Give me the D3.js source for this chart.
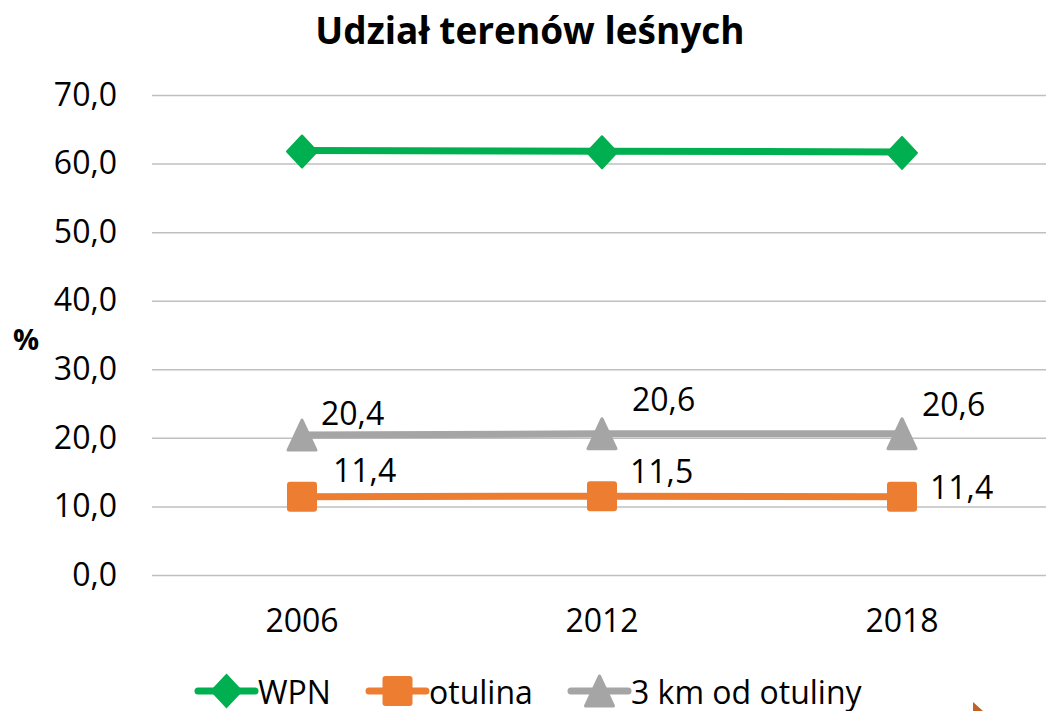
<!DOCTYPE html>
<html>
<head>
<meta charset="utf-8">
<script src="https://cdn.jsdelivr.net/npm/d3@7"></script>
<style>
  html, body { margin: 0; padding: 0; background: #fff; }
  svg { display: block; font-family: "Open Sans", "Noto Sans", sans-serif; }
</style>
</head>
<body>
<svg id="chart" width="1046" height="711"></svg>
<script>
// Share of forest land (%)
const years = ["2006", "2012", "2018"];
const wpn = [61.9, 61.8, 61.7];
const otulina = [11.4, 11.5, 11.4];
const km3 = [20.4, 20.6, 20.6];
const yTicks = [0, 10, 20, 30, 40, 50, 60, 70];
const seriesNames = ["WPN", "otulina", "3 km od otuliny"];

// label placement offsets relative to each point
const labelOffsetsGray = [[19, -23], [30, -35], [20, -30]];
const labelOffsetsOrange = [[31, -27], [28, -26], [28, -10]];

const W = 1046, H = 711;
const FS = 32;
const svg = d3.select("#chart");

const x = d3.scaleBand().domain(years).range([152, 1052]).padding(0);
const cx = d => x(d) + x.bandwidth() / 2;
const y = d3.scaleLinear().domain([0, 70]).range([575, 95]);
const fmt = v => v.toFixed(1).replace(".", ",");

// title
svg.append("text")
  .attr("x", 530).attr("y", 44)
  .attr("text-anchor", "middle")
  .attr("font-size", 37).attr("font-weight", "bold")
  .attr("fill", "#000")
  .text("Udział terenów leśnych");

// y axis with gridlines
const yAxis = svg.append("g")
  .attr("transform", "translate(152,0)")
  .call(d3.axisLeft(y).tickValues(yTicks).tickFormat(fmt)
    .tickSize(-(W - 152)).tickPadding(35));
yAxis.select(".domain").remove();
yAxis.selectAll(".tick line").attr("stroke", "#bfbfbf").attr("stroke-width", 1.5);
yAxis.selectAll(".tick text").attr("font-size", FS).attr("fill", "#000")
  .attr("font-family", "Open Sans, sans-serif");

// x axis labels
const xAxis = svg.append("g")
  .attr("transform", "translate(0,575)")
  .call(d3.axisBottom(x).tickSize(0).tickPadding(34));
xAxis.select(".domain").remove();
xAxis.selectAll(".tick text").attr("font-size", FS).attr("fill", "#000")
  .attr("font-family", "Open Sans, sans-serif");

// axis title
svg.append("text")
  .attr("x", 26).attr("y", 338)
  .attr("text-anchor", "middle").attr("dominant-baseline", "central")
  .attr("font-size", 29).attr("font-weight", "bold")
  .text("%");

const colors = { wpn: "#00b050", otulina: "#ed7d31", km3: "#a5a5a5" };

// marker shapes
const diamondPath = "M0,-16 L15,0 L0,16 L-15,0 Z";
const trianglePath = "M0,-16 L14,14 L-14,14 Z";

function drawSeries(values, color, marker) {
  const pts = years.map((yr, i) => [cx(yr), y(values[i])]);
  svg.append("path")
    .attr("d", d3.line()(pts))
    .attr("fill", "none").attr("stroke", color).attr("stroke-width", 7)
    .attr("stroke-linejoin", "round");
  const g = svg.append("g");
  pts.forEach(p => {
    if (marker === "diamond") {
      g.append("path").attr("d", diamondPath)
        .attr("transform", `translate(${p[0]},${p[1] + 1})`)
        .attr("fill", color).attr("stroke", color).attr("stroke-width", 2)
        .attr("stroke-linejoin", "round");
    } else if (marker === "square") {
      g.append("rect").attr("x", p[0] - 15).attr("y", p[1] - 15)
        .attr("width", 30).attr("height", 30).attr("rx", 3)
        .attr("fill", color);
    } else {
      g.append("path").attr("d", trianglePath)
        .attr("transform", `translate(${p[0]},${p[1] + 1})`)
        .attr("fill", color).attr("stroke", color).attr("stroke-width", 3)
        .attr("stroke-linejoin", "round");
    }
  });
  return pts;
}

drawSeries(wpn, colors.wpn, "diamond");
const ptsOrange = drawSeries(otulina, colors.otulina, "square");
const ptsGray = drawSeries(km3, colors.km3, "triangle");

function drawLabels(pts, values, offsets) {
  pts.forEach((p, i) => {
    svg.append("text")
      .attr("x", p[0] + offsets[i][0]).attr("y", p[1] + offsets[i][1])
      .attr("dominant-baseline", "central")
      .attr("font-size", FS).attr("fill", "#000")
      .text(fmt(values[i]));
  });
}
drawLabels(ptsGray, km3, labelOffsetsGray);
drawLabels(ptsOrange, otulina, labelOffsetsOrange);

// legend
const legendY = 691;
const legendItems = [
  { name: seriesNames[0], color: colors.wpn, marker: "diamond", x0: 198 },
  { name: seriesNames[1], color: colors.otulina, marker: "square", x0: 369 },
  { name: seriesNames[2], color: colors.km3, marker: "triangle", x0: 571 }
];
legendItems.forEach(it => {
  const g = svg.append("g");
  g.append("line")
    .attr("x1", it.x0).attr("x2", it.x0 + 57)
    .attr("y1", legendY).attr("y2", legendY)
    .attr("stroke", it.color).attr("stroke-width", 7).attr("stroke-linecap", "round");
  const mx = it.x0 + 28.5;
  if (it.marker === "diamond") {
    g.append("path").attr("d", diamondPath)
      .attr("transform", `translate(${mx},${legendY})`)
      .attr("fill", it.color).attr("stroke", it.color).attr("stroke-width", 2);
  } else if (it.marker === "square") {
    g.append("rect").attr("x", mx - 15).attr("y", legendY - 15)
      .attr("width", 30).attr("height", 30).attr("rx", 3).attr("fill", it.color);
  } else {
    g.append("path").attr("d", trianglePath)
      .attr("transform", `translate(${mx},${legendY + 1})`)
      .attr("fill", it.color).attr("stroke", it.color).attr("stroke-width", 3)
      .attr("stroke-linejoin", "round");
  }
  g.append("text")
    .attr("x", it.x0 + 60).attr("y", legendY)
    .attr("dominant-baseline", "central")
    .attr("font-size", FS).attr("fill", "#000")
    .text(it.name);
});

// small corner ornament
svg.append("path")
  .attr("d", "M973,702 L973,711 L983,711 Z")
  .attr("fill", "#c0632a");
</script>
</body>
</html>
